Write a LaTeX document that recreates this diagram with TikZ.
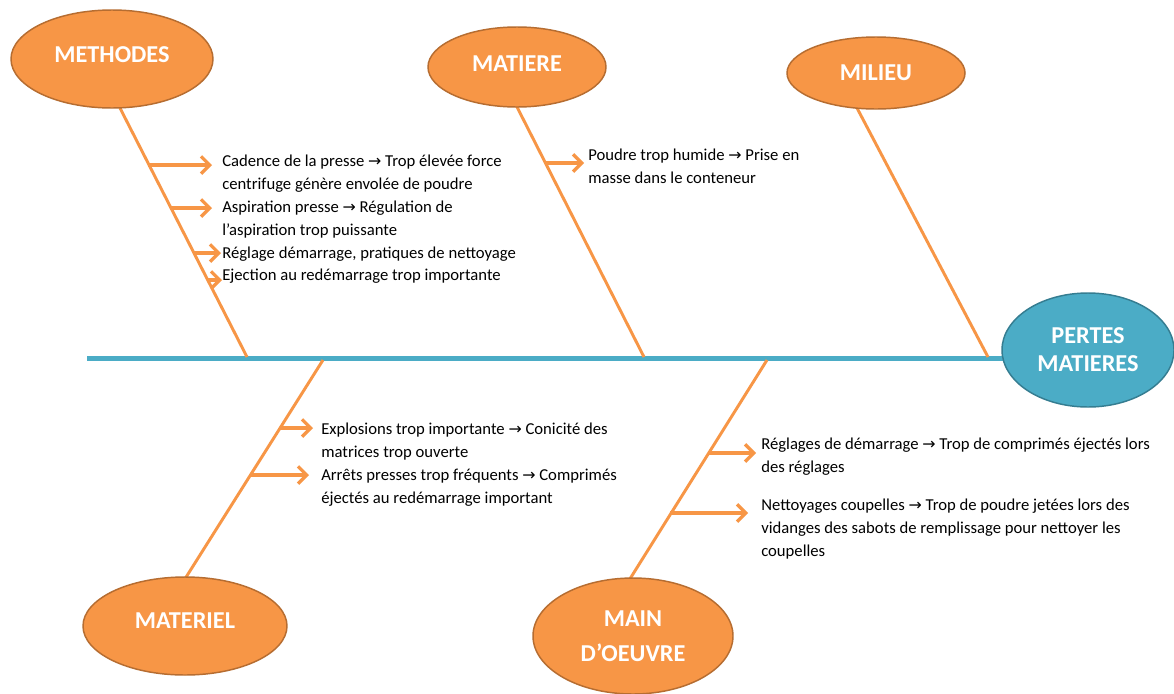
\documentclass[tikz,border=0pt]{standalone}
\usepackage{fontspec}
\setmainfont{Carlito}
\newfontfamily\symfont{DejaVu Sans}
\newcommand{\myarr}{{\symfont\scalebox{0.95}{→}}}
\usetikzlibrary{arrows.meta,shapes.geometric}
\definecolor{orfill}{HTML}{F79646}
\definecolor{ordraw}{HTML}{B66D31}
\definecolor{blfill}{HTML}{4BACC6}
\definecolor{bldraw}{HTML}{357D91}
\tikzset{
  cause/.style={ellipse, fill=orfill, draw=ordraw, line width=1.1pt, inner sep=0pt,
    text=white, font=\fontsize{18.2}{21}\selectfont\bfseries, align=center},
  effect/.style={ellipse, fill=blfill, draw=bldraw, line width=1.1pt, inner sep=0pt,
    text=white, font=\fontsize{18.2}{21}\selectfont\bfseries, align=center},
  spine/.style={draw=blfill, line width=3.75pt},
  branch/.style={draw=orfill, line width=2.2pt},
  subarrow/.style={draw=orfill, line width=2.4pt, -{Straight Barb[length=6.5pt,width=13pt]}},
  body/.style={anchor=north west, inner sep=0pt, align=left,
    font=\fontsize{12.5}{17.1}\selectfont}
}
\begin{document}
\begin{tikzpicture}[x=0.75pt,y=-0.75pt]
\useasboundingbox (0,0) rectangle (1174,693);
\fill[white] (0,0) rectangle (1174,693);

% spine
\coordinate (sp0) at (87,358);
\coordinate (sp1) at (1005,358);
\draw[spine] (sp0) -- (sp1);

% branch end points
\coordinate (bmethT) at (120,108);  \coordinate (bmethB) at (247,357);
\coordinate (bmatT)  at (516,105);  \coordinate (bmatB)  at (644,357);
\coordinate (bmilT)  at (857,108);  \coordinate (bmilB)  at (988,357);
\coordinate (bmatlT) at (323,360);  \coordinate (bmatlB) at (183,582);
\coordinate (bmoT)   at (767,360);  \coordinate (bmoB)   at (628,582);
\draw[branch] (bmethT) -- (bmethB);
\draw[branch] (bmatT) -- (bmatB);
\draw[branch] (bmilT) -- (bmilB);
\draw[branch] (bmatlT) -- (bmatlB);
\draw[branch] (bmoT) -- (bmoB);

% small arrows
\coordinate (a1s) at (148,165); \coordinate (a1e) at (212,165);
\coordinate (a2s) at (170,208); \coordinate (a2e) at (212,208);
\coordinate (a3s) at (194,253); \coordinate (a3e) at (221,253);
\coordinate (a4s) at (208,280); \coordinate (a4e) at (222,280);
\coordinate (b1s) at (546,163); \coordinate (b1e) at (584,163);
\coordinate (c1s) at (280,428); \coordinate (c1e) at (313,428);
\coordinate (c2s) at (250,475); \coordinate (c2e) at (309,475);
\coordinate (d1s) at (708,453); \coordinate (d1e) at (756,453);
\coordinate (d2s) at (670,513); \coordinate (d2e) at (748,513);
\foreach \s/\e in {a1s/a1e,a2s/a2e,a3s/a3e,a4s/a4e,b1s/b1e,c1s/c1e,c2s/c2e,d1s/d1e,d2s/d2e}
  \draw[subarrow] (\s) -- (\e);

% ellipses
\node[cause, minimum width=151.5pt, minimum height=73.5pt] (meth) at (112,59) {\raisebox{6pt}{METHODES}};
\node[cause, minimum width=133.5pt, minimum height=60pt] (mat) at (517,67) {\raisebox{5pt}{MATIERE}};
\node[cause, minimum width=133.5pt, minimum height=54pt] (mil) at (876,73) {\raisebox{1pt}{MILIEU}};
\node[effect, minimum width=129pt, minimum height=85.5pt] (pert) at (1088,350) {PERTES\\MATIERES};
\node[cause, minimum width=153pt, minimum height=73.5pt] (matl) at (185,626) {\raisebox{8.5pt}{MATERIEL}};
\node[cause, minimum width=150pt, minimum height=87pt] (mo) at (633,636) {MAIN\\[5pt]D’OEUVRE};

% texts
\node[body] (tmeth) at (222,155) {Cadence de la presse \myarr{} Trop élevée force\\
centrifuge génère envolée de poudre\\
Aspiration presse \myarr{} Régulation de\\
l’aspiration trop puissante\\
Réglage démarrage, pratiques de nettoyage\\
Ejection au redémarrage trop importante};
\node[body] (tmat) at (588,149) {Poudre trop humide \myarr{} Prise en\\
masse dans le conteneur};
\node[body] (tmatl) at (321,423) {Explosions trop importante \myarr{} Conicité des\\
matrices trop ouverte\\
Arrêts presses trop fréquents \myarr{} Comprimés\\
éjectés au redémarrage important};
\node[body] (tmo1) at (761,438) {Réglages de démarrage \myarr{} Trop de comprimés éjectés lors\\
des réglages};
\node[body] (tmo2) at (761,499) {Nettoyages coupelles \myarr{} Trop de poudre jetées lors des\\
vidanges des sabots de remplissage pour nettoyer les\\
coupelles};
\end{tikzpicture}
\end{document}
